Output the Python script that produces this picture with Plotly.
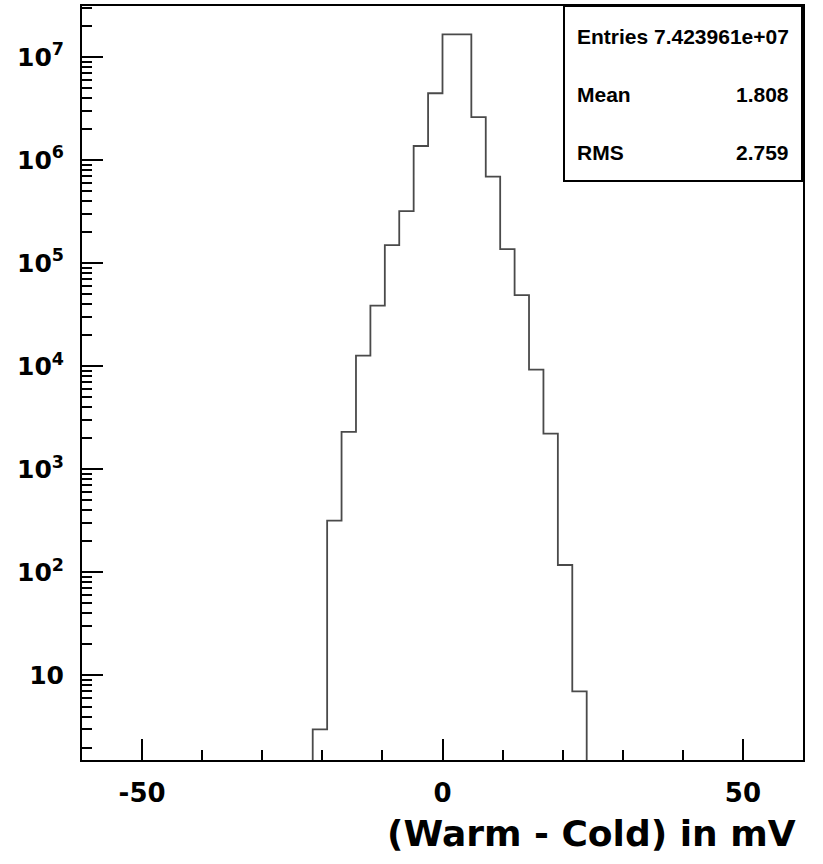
import plotly.graph_objects as go

# ---- data ----
bin_low = -21.6          # left edge of first filled bin (mV)
bin_width = 2.4          # mV
counts = [3, 318, 2307, 12700, 38800, 149600, 320000, 1.37e6, 4.45e6,
          1.66e7, 1.66e7, 2.61e6, 6.9e5, 1.37e5, 48900, 9290, 2220, 118, 7]

stats_labels = ["Entries", "Mean", "RMS"]
stats_values = ["7.423961e+07", "1.808", "2.759"]

x_title = "(Warm - Cold) in mV"
x_tick_vals = [-50, 0, 50]
x_tick_text = ["-50", "0", "50"]
y_tick_vals = [10, 1e2, 1e3, 1e4, 1e5, 1e6, 1e7]
y_tick_text = ["10", "10<sup>2</sup>", "10<sup>3</sup>", "10<sup>4</sup>",
               "10<sup>5</sup>", "10<sup>6</sup>", "10<sup>7</sup>"]

# ---- build step outline ----
edges = [bin_low + i * bin_width for i in range(len(counts) + 1)]
floor = 0.1  # below visible range -> clipped at frame bottom
xs = [edges[0]] + edges[:-1] + [edges[-1]]
ys = [floor] + counts + [floor]

fig = go.Figure()
fig.add_trace(go.Scatter(x=xs, y=ys, mode="lines", line_shape="hv",
                         line=dict(color="#4a4a4a", width=1.8),
                         hoverinfo="skip", showlegend=False))

W, H = 823, 864
L, R, T, B = 82, 20, 6, 104
pw, ph = W - L - R, H - T - B

def px(xp):
    return (xp - L) / pw

def py(yp):
    return (H - B - yp) / ph

minor_y = [m * 10 ** k for k in range(0, 8) for m in range(2, 10)]

fig.update_layout(
    width=W, height=H,
    margin=dict(l=L, r=R, t=T, b=B, autoexpand=False),
    paper_bgcolor="white", plot_bgcolor="white",
    xaxis=dict(range=[-60, 60], showgrid=False, zeroline=False, automargin=False,
               showline=True, linecolor="black", linewidth=2, mirror=True,
               tickmode="array", tickvals=x_tick_vals, ticktext=x_tick_text,
               ticks="inside", ticklen=21, tickwidth=1.5, tickcolor="black",
               minor=dict(tickmode="linear", tick0=0, dtick=10, ticks="inside",
                          ticklen=10, tickwidth=1.5, tickcolor="black", showgrid=False),
               tickfont=dict(family="DejaVu Sans", size=26, color="black", weight="bold"),
               ticklabelstandoff=9),
    yaxis=dict(type="log", range=[0.18, 7.495], showgrid=False, zeroline=False,
               automargin=False,
               showline=True, linecolor="black", linewidth=2, mirror=True,
               tickmode="array", tickvals=y_tick_vals, ticktext=y_tick_text,
               ticks="inside", ticklen=21, tickwidth=1.5, tickcolor="black",
               minor=dict(tickmode="array", tickvals=minor_y, ticks="inside",
                          ticklen=10, tickwidth=1.5, tickcolor="black", showgrid=False),
               tickfont=dict(family="DejaVu Sans", size=25, color="black", weight="bold"),
               ticklabelstandoff=11),
)

# stats box
fig.add_shape(type="rect", xref="paper", yref="paper",
              x0=px(564), x1=px(802), y0=py(181), y1=py(6),
              line=dict(color="black", width=2), fillcolor="white", layer="above")

stat_ys = [36.7, 94, 152.3]
for lab, val, yy in zip(stats_labels, stats_values, stat_ys):
    fig.add_annotation(xref="paper", yref="paper", x=px(575), y=py(yy),
                       text=lab, showarrow=False, xanchor="left", yanchor="middle",
                       font=dict(family="Liberation Sans", size=21, color="black", weight="bold"))
    fig.add_annotation(xref="paper", yref="paper", x=px(791), y=py(yy),
                       text=val, showarrow=False, xanchor="right", yanchor="middle",
                       font=dict(family="Liberation Sans", size=21, color="black", weight="bold"))

fig.add_annotation(xref="paper", yref="paper", x=px(798), y=py(833),
                   text=x_title, showarrow=False, xanchor="right", yanchor="middle",
                   font=dict(family="DejaVu Sans", size=36, color="black", weight="bold"))

fig.write_html("out.html", config={"displayModeBar": False},
               post_script="document.body.style.margin='0px';document.body.style.overflow='hidden';")
